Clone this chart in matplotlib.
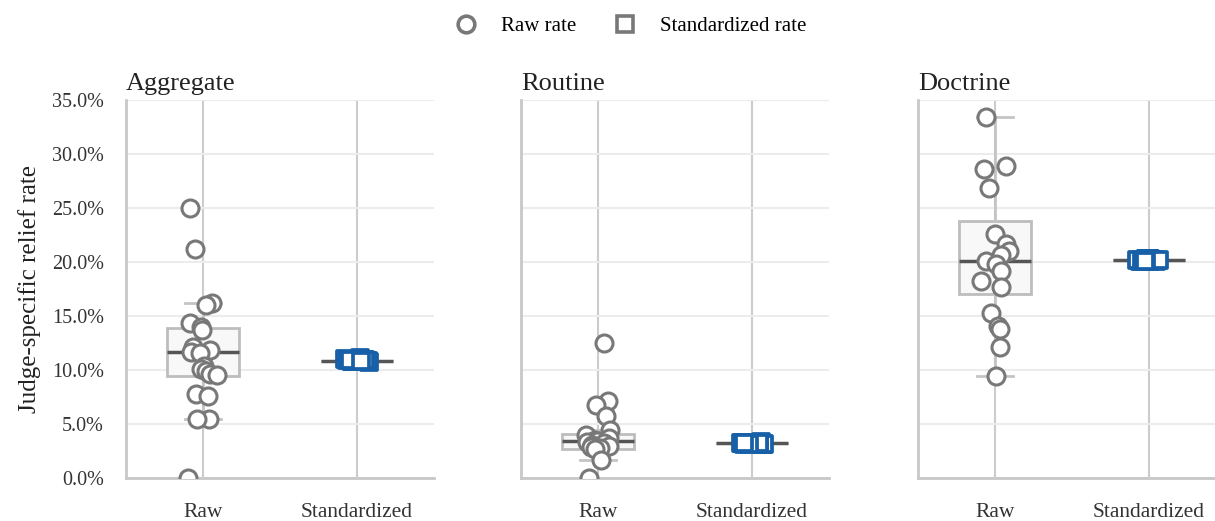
import numpy as np
import matplotlib
matplotlib.use('Agg')
import matplotlib.pyplot as plt
from matplotlib.ticker import PercentFormatter
from matplotlib.lines import Line2D

plt.rcParams['font.family'] = ['Liberation Serif', 'DejaVu Serif']

panels = ['Aggregate', 'Routine', 'Doctrine']
categories = ['Raw', 'Standardized']

# judge-specific relief rates, in percent
raw_aggregate = [25.0, 21.2, 16.2, 16.0, 14.4, 14.0, 13.7, 12.2, 11.9, 11.7, 11.6,
                 10.4, 10.1, 9.9, 9.7, 9.6, 7.8, 7.6, 5.5, 5.5, 0.0]
raw_routine = [12.5, 7.2, 6.8, 5.8, 4.5, 4.0, 3.7, 3.6, 3.5, 3.4, 3.3, 3.1,
               3.0, 2.9, 2.8, 2.7, 1.7, 0.0]
raw_doctrine = [33.4, 28.9, 28.6, 26.9, 22.6, 21.7, 21.0, 20.7, 20.1, 19.8, 19.2,
                18.3, 17.7, 15.3, 14.1, 13.8, 12.2, 9.5]

std_aggregate = [10.8, 10.85, 10.9, 10.9, 10.95, 11.0, 11.0, 11.05, 10.9, 10.85,
                 10.95, 11.0, 10.9, 10.95, 11.1, 10.9, 11.0, 10.85, 10.95, 11.0, 10.9]
std_routine = [3.2, 3.25, 3.3, 3.25, 3.2, 3.3, 3.35, 3.25, 3.2, 3.3, 3.25, 3.2,
               3.3, 3.25, 3.3, 3.2, 3.25, 3.3]
std_doctrine = [20.1, 20.2, 20.3, 20.15, 20.25, 20.2, 20.1, 20.3, 20.2, 20.25,
                20.15, 20.2, 20.3, 20.1, 20.2, 20.25, 20.2, 20.15]

# box summaries: whisker low, Q1, median, Q3, whisker high
box_raw = {
    'Aggregate': [5.5, 9.5, 11.7, 13.9, 16.2],
    'Routine': [1.7, 2.75, 3.5, 4.1, 4.5],
    'Doctrine': [9.5, 17.1, 20.1, 23.8, 33.4],
}
box_std = {
    'Aggregate': [10.9, 10.9, 10.9, 10.9, 10.9],
    'Routine': [3.25, 3.25, 3.25, 3.25, 3.25],
    'Doctrine': [20.2, 20.2, 20.2, 20.2, 20.2],
}

raw = {'Aggregate': raw_aggregate, 'Routine': raw_routine, 'Doctrine': raw_doctrine}
std = {'Aggregate': std_aggregate, 'Routine': std_routine, 'Doctrine': std_doctrine}

grey = '#787878'
blue = '#1760a8'
rng = np.random.default_rng(3)

fig = plt.figure(figsize=(12.15, 5.21), dpi=100)
lefts = [126, 521, 918]
axes = []
for i, name in enumerate(panels):
    ax = fig.add_axes([lefts[i] / 1215, 0.0816, 308 / 1215, 0.7265])
    axes.append(ax)

    for pos, s in enumerate([box_raw[name], box_std[name]]):
        stats = [dict(whislo=s[0], q1=s[1], med=s[2], q3=s[3], whishi=s[4])]
        ax.bxp(stats, positions=[pos], widths=0.47, showfliers=False, patch_artist=True,
               boxprops=dict(facecolor='#f8f8f8', edgecolor='#bdbdbd', lw=2),
               whiskerprops=dict(color='#c4c4c4', lw=2),
               capprops=dict(color='#c4c4c4', lw=2),
               medianprops=dict(color='#555555', lw=2.5),
               zorder=2)

    r = np.array(raw[name])
    ax.scatter(rng.uniform(-0.1, 0.1, len(r)), r, s=150, marker='o',
               facecolor='white', edgecolor=grey, lw=2.2, zorder=4)
    d = np.array(std[name])
    ax.scatter(1 + rng.uniform(-0.08, 0.08, len(d)), d, s=135, marker='s',
               facecolor='white', edgecolor=blue, lw=2.7, zorder=4)

    ax.set_xlim(-0.5, 1.5)
    ax.set_ylim(0, 35)
    ax.set_yticks(np.arange(0, 36, 5))
    ax.yaxis.set_major_formatter(PercentFormatter(100, decimals=1))
    ax.set_xticks([0, 1])
    ax.set_xticklabels(categories)
    ax.grid(axis='y', color='#ececec', lw=1.5, zorder=0)
    ax.grid(axis='x', color='#cccccc', lw=1.5, zorder=0)
    ax.set_axisbelow(True)
    for side in ['top', 'right']:
        ax.spines[side].set_visible(False)
    for side in ['left', 'bottom']:
        ax.spines[side].set_color('#c8c8c8')
        ax.spines[side].set_linewidth(2)
    ax.tick_params(length=0, colors='#333333')
    ax.tick_params(axis='y', pad=16, labelsize=14.5)
    ax.tick_params(axis='x', pad=18, labelsize=15.5)
    if i > 0:
        ax.tick_params(axis='y', labelleft=False)
    ax.set_title(name, loc='left', fontsize=19, pad=7, color='#222222')

axes[0].set_ylabel('Judge-specific relief rate', fontsize=18, color='#222222', labelpad=8)

handles = [
    Line2D([], [], marker='o', ls='none', markersize=12, markerfacecolor='white',
           markeredgecolor=grey, markeredgewidth=2.6),
    Line2D([], [], marker='s', ls='none', markersize=12, markerfacecolor='white',
           markeredgecolor=grey, markeredgewidth=2.6),
]
fig.legend(handles, ['Raw rate', 'Standardized rate'], loc='center', ncol=2,
           bbox_to_anchor=(0.515, 0.95), frameon=False, fontsize=15,
           handletextpad=0.7, columnspacing=1.3)

fig.savefig('out.png', dpi=100)
